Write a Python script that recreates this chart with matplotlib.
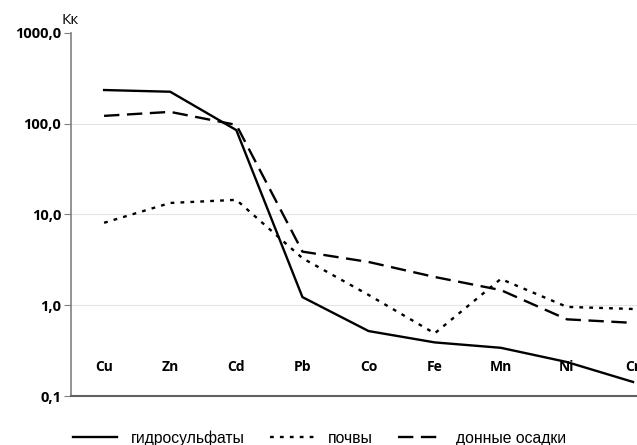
import matplotlib.pyplot as plt
from matplotlib.lines import Line2D

elements = ['Cu', 'Zn', 'Cd', 'Pb', 'Co', 'Fe', 'Mn', 'Ni', 'Cr']
hydrosulf = [235, 225, 85, 1.23, 0.52, 0.39, 0.34, 0.237, 0.143]
soils = [8.1, 13.4, 14.5, 3.3, 1.3, 0.49, 1.95, 0.96, 0.91]
sediments = [122, 135, 97, 3.9, 3.0, 2.05, 1.47, 0.70, 0.64]
yticks = [0.1, 1, 10, 100, 1000]
ytick_labels = ['0,1', '1,0', '10,0', '100,0', '1000,0']

dotted = (0, (1.6, 2.6))
dashed = (0, (6.5, 3.2))

fig = plt.figure(figsize=(6.37, 4.45), dpi=100)
ax = fig.add_axes([0.1115, 0.110, 0.8885, 0.816])

x = range(len(elements))
ax.plot(x, hydrosulf, color='black', lw=1.7, linestyle='-')
ax.plot(x, soils, color='black', lw=1.7, linestyle=dotted)
ax.plot(x, sediments, color='black', lw=1.7, linestyle=dashed)

ax.set_yscale('log')
ax.set_ylim(0.1, 1000)
ax.set_xlim(-0.5, 8.06)
ax.set_yticks(yticks)
ax.set_yticklabels(ytick_labels, fontweight='bold', fontsize=10.5, family='Open Sans')
ax.minorticks_off()
ax.tick_params(axis='y', length=5, color='#808080', pad=2)
ax.set_xticks([])
for y in [1, 10, 100]:
    ax.axhline(y, color='#e4e4e4', lw=0.8, zorder=0)

for s in ['top', 'right']:
    ax.spines[s].set_visible(False)
ax.spines['left'].set_color('#808080')
ax.spines['left'].set_linewidth(1.2)
ax.spines['bottom'].set_color('#606060')
ax.spines['bottom'].set_linewidth(1.5)

for i, el in enumerate(elements):
    ax.text(i, 0.21, el, ha='center', va='center', fontsize=10,
            fontweight='bold', family='Open Sans', clip_on=False)

fig.text(0.097, 0.955, 'Кк', fontsize=11, family='Open Sans', ha='left', va='center')

handles = [Line2D([], [], color='black', lw=1.7, linestyle='-'),
           Line2D([], [], color='black', lw=1.7, linestyle=dotted),
           Line2D([], [], color='black', lw=1.7, linestyle=dashed)]
fig.legend(handles, ['гидросульфаты', 'почвы', 'донные осадки'], loc='center',
           bbox_to_anchor=(0.502, 0.016), ncol=3, frameon=False,
           prop={'family': 'Liberation Sans', 'size': 11.3}, handlelength=2.8,
           columnspacing=1.6, handletextpad=0.9)

fig.savefig('out.png', dpi=100)
